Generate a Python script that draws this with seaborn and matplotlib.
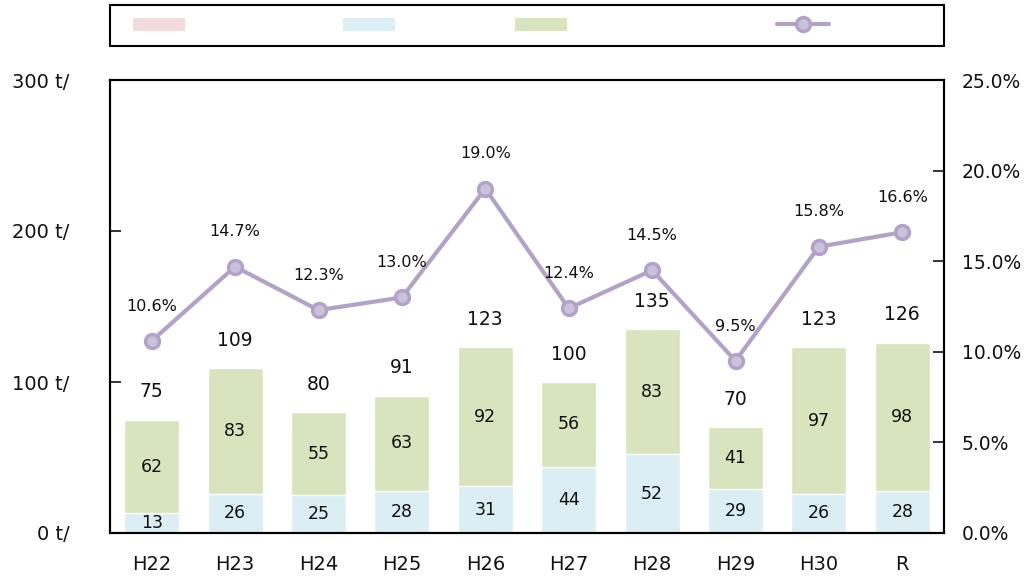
import matplotlib
matplotlib.use("Agg")
import matplotlib.pyplot as plt
import seaborn as sns
import pandas as pd
from matplotlib.patches import Rectangle
from matplotlib.lines import Line2D

# data
years = ["H22", "H23", "H24", "H25", "H26", "H27", "H28", "H29", "H30", "R"]
pink_vals = [0, 0, 0, 0, 0, 0, 0, 0, 0, 0]
blue_vals = [13, 26, 25, 28, 31, 44, 52, 29, 26, 28]
green_vals = [62, 83, 55, 63, 92, 56, 83, 41, 97, 98]
rates = [10.6, 14.7, 12.3, 13.0, 19.0, 12.4, 14.5, 9.5, 15.8, 16.6]

PINK = "#F2DCDB"
BLUE = "#DAEEF3"
GREEN = "#D7E4BD"
PURPLE = "#B3A2C7"
PURPLE_FACE = "#CCC1DA"
TXT = "#111111"

df = pd.DataFrame({"year": years, "pink": pink_vals, "blue": blue_vals, "green": green_vals, "rate": rates})
df["total"] = df["pink"] + df["blue"] + df["green"]

sns.set_theme(style="white")
plt.rcParams["font.family"] = ["DejaVu Sans", "Noto Sans CJK JP"]

fig = plt.figure(figsize=(10.29, 5.8), dpi=100)
ax = fig.add_axes([110 / 1029, 47 / 580, 834 / 1029, 453 / 580])

# stacked bars: draw the total in green, blue over it
sns.barplot(data=df, x="year", y="total", color=GREEN, saturation=1, width=0.66, ax=ax)
sns.barplot(data=df, x="year", y="blue", color=BLUE, saturation=1, width=0.66, ax=ax)
sns.barplot(data=df, x="year", y="pink", color=PINK, saturation=1, width=0.66, ax=ax)

for i, row in df.iterrows():
    ax.text(i, row["blue"] / 2, str(row["blue"]), ha="center", va="center", fontsize=12.5, color=TXT)
    ax.text(i, row["blue"] + row["green"] / 2, str(row["green"]), ha="center", va="center", fontsize=12.5, color=TXT)
    ax.annotate(str(row["total"]), (i, row["total"]), xytext=(0, 20), textcoords="offset points",
                ha="center", va="center", fontsize=13.5, color=TXT)

ax.set_ylim(0, 300)
ax.set_yticks([0, 100, 200, 300])
ax.set_yticklabels([f"{v} t/" for v in [0, 100, 200, 300]])
ax.set_xlabel("")
ax.set_ylabel("")
ax.tick_params(axis="y", direction="in", length=8, width=1.2, pad=29, labelsize=14, colors=TXT)
ax.tick_params(axis="x", length=0, pad=16, labelsize=14, colors=TXT)
for s in ax.spines.values():
    s.set_color("black")
    s.set_linewidth(1.5)

# rate line on the right axis
ax2 = ax.twinx()
sns.pointplot(data=df, x="year", y="rate", color=PURPLE, markers="o", errorbar=None,
              markersize=10, linewidth=3, ax=ax2)
for ln in ax2.lines:
    ln.set_markerfacecolor(PURPLE_FACE)
    ln.set_markeredgecolor(PURPLE)
    ln.set_markeredgewidth(2.5)
for i, r in enumerate(rates):
    ax2.annotate(f"{r:.1f}%", (i, r), xytext=(0, 25), textcoords="offset points",
                 ha="center", va="center", fontsize=11.5, color=TXT)

ax2.set_ylim(0, 25)
ax2.set_yticks([0, 5, 10, 15, 20, 25])
ax2.set_yticklabels([f"{v:.1f}%" for v in [0, 5, 10, 15, 20, 25]])
ax2.set_xlabel("")
ax2.set_ylabel("")
ax2.tick_params(axis="y", direction="in", length=8, width=1.2, pad=13, labelsize=13.5, colors=TXT)
for s in ax2.spines.values():
    s.set_color("black")
    s.set_linewidth(1.5)
ax.set_xlim(-0.5, 9.5)

# legend box at the top
fig.add_artist(Rectangle((110 / 1029, 534 / 580), 834 / 1029, 41 / 580, transform=fig.transFigure,
                         fill=False, edgecolor="black", linewidth=1.5))
handles = [
    Rectangle((0, 0), 1, 1, facecolor=PINK, edgecolor="none"),
    Rectangle((0, 0), 1, 1, facecolor=BLUE, edgecolor="none"),
    Rectangle((0, 0), 1, 1, facecolor=GREEN, edgecolor="none"),
    Line2D([], [], color=PURPLE, linewidth=3, marker="o", markersize=10,
           markerfacecolor=PURPLE_FACE, markeredgecolor=PURPLE, markeredgewidth=2.5),
]
labels = [" " * 30, " " * 23, " " * 40, " " * 17]
fig.legend(handles, labels, loc="center left", bbox_to_anchor=(133 / 1029, 1 - 25.5 / 580),
           ncol=4, frameon=False, borderpad=0, borderaxespad=0, handlelength=3.12, handleheight=0.84,
           handletextpad=0, columnspacing=0, prop={"family": "DejaVu Sans", "size": 12})

fig.savefig("out.png", dpi=100)
